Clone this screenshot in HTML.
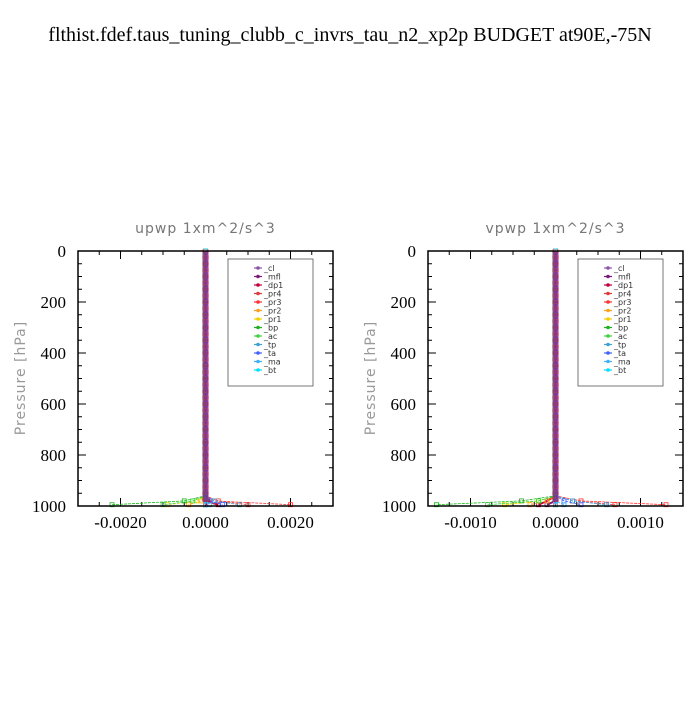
<!DOCTYPE html>
<html><head><meta charset="utf-8"><style>
body{margin:0;background:#fff}
</style></head><body>
<svg id="chart" width="700" height="700" viewBox="0 0 700 700" font-family="Liberation Serif, serif">
<rect width="700" height="700" fill="#fff"/>
<text x="350" y="41" font-size="20" text-anchor="middle">flthist.fdef.taus_tuning_clubb_c_invrs_tau_n2_xp2p  BUDGET at90E,-75N</text>
<g id="panels"></g>
</svg>
<script>
const levels=[0,50,100,150,200,250,300,350,400,450,500,550,600,650,700,750,800,850,900,950,960,980,995];
const names=["_cl","_mfl","_dp1","_pr4","_pr3","_pr2","_pr1","_bp","_ac","_tp","_ta","_ma","_bt"];
const colors=["#8855aa","#7a1a7a","#c0003a","#e03a3a","#ff3030","#ffa020","#f0d000","#20b020","#40d040","#40a0d0","#4060ff","#40b0ff","#00e0ff"];
const Z=[0,0,0,0,0,0,0,0,0,0,0,0,0,0,0,0,0,0,0,0];
const upwpBottom=[[0,0,0],[0,0.0001,0],[0,0,0.0003],[0,0.0003,0.0010],[0,0.0002,0.0020],[0,-0.0001,-0.0004],[0,-0.0002,-0.0009],[0,-0.0005,-0.0022],[0,-0.0003,-0.0010],[0,0.0002,0.0008],[0,0.0001,0.0004],[0,0,0.0001],[0,0,0]];
const vpwpBottom=[[0,0,0],[0,0,-0.0001],[0,-0.0001,-0.0002],[0,0.0002,0.0007],[0,0.0003,0.0013],[0,-0.0001,-0.0003],[0,-0.0002,-0.0006],[0,-0.0004,-0.0014],[0,-0.0002,-0.0008],[0,0.0002,0.0006],[0,0.0001,0.0003],[0,0,0.0001],[0,0,0]];
const yTicks=[0,200,400,600,800,1000];
const upwpTicks=[-0.002,0,0.002];
const vpwpTicks=[-0.001,0,0.001];
const NS="http://www.w3.org/2000/svg";
const root=document.getElementById("panels");
function mk(tag,attrs,parent){const e=document.createElementNS(NS,tag);for(const k in attrs)e.setAttribute(k,attrs[k]);parent.appendChild(e);return e;}
function panel(x0,title,xmax,ticks,bottom,key){
  const g=mk("g",{},root);
  
  
  const W=255,H=255,y0=251;
  const sx=v=>x0+W/2+v/xmax*(W/2);
  const sy=p=>y0+p/1000*H;
  const t=mk("text",{x:x0+W/2,y:233,"font-size":14,fill:"#777","text-anchor":"middle","font-family":"DejaVu Sans, sans-serif","letter-spacing":"1"},g);
  t.textContent=title;
  
  
  const yl=mk("text",{x:0,y:0,"font-size":14,fill:"#999","text-anchor":"middle","font-family":"DejaVu Sans, sans-serif","letter-spacing":"1",transform:`translate(${x0-53},378) rotate(-90)`},g);
  yl.textContent="Pressure [hPa]";
  
  
  for(let p=0;p<=1000;p+=50){
    const major=p%200===0,L=major?8:4;
    mk("line",{x1:x0,x2:x0+L,y1:sy(p),y2:sy(p),stroke:"#000"},g);
    mk("line",{x1:x0+W,x2:x0+W-L,y1:sy(p),y2:sy(p),stroke:"#000"},g);
  }
  yTicks.forEach(p=>{const tx=mk("text",{x:x0-12,y:sy(p)+6,"font-size":17,"text-anchor":"end"},g);tx.textContent=p;
    
    });
  const step=ticks[2]/4;
  for(let k=-20;k<=20;k++){
    const vv=k*step; if(Math.abs(vv)>xmax+1e-12)continue;
    const major=Math.abs(k)%4===0,L=major?8:4;
    mk("line",{x1:sx(vv),x2:sx(vv),y1:y0+H,y2:y0+H-L,stroke:"#000"},g);
    mk("line",{x1:sx(vv),x2:sx(vv),y1:y0,y2:y0+L,stroke:"#000"},g);
  }
  ticks.forEach(v=>{const tx=mk("text",{x:sx(v),y:y0+H+22,"font-size":17,"text-anchor":"middle"},g);tx.textContent=v.toFixed(4);
    
    });
  names.forEach((n,i)=>{
    const vals=Z.concat(bottom[i]);
    const pts=vals.map((v,j)=>sx(v)+","+sy(levels[j])).join(" ");
    const pl=mk("polyline",{points:pts,fill:"none",stroke:colors[i],"stroke-width":i<3?2:0.8,"stroke-dasharray":i<3?"none":"3,1"},g);
    
    
    vals.forEach((v,j)=>{const m=mk("rect",{x:sx(v)-2,y:sy(levels[j])-2,width:4,height:4,fill:"none",stroke:colors[i],"stroke-width":0.8},g);
      
      });
  });
  mk("rect",{x:x0+W/2-3,y:y0,width:6,height:H-4,fill:"#7a2a8a",opacity:0.85},g);
  for(let p=0;p<1000;p+=25){mk("rect",{x:x0+W/2-3,y:sy(p)-1.5,width:6,height:3,fill:"none",stroke:"#c05030","stroke-width":0.5,opacity:0.6},g);}
  mk("rect",{x:x0,y:y0,width:W,height:H,fill:"none",stroke:"#000","stroke-width":1.5},g);
  const lg=mk("g",{},g);
  
  
  mk("rect",{x:x0+150,y:259,width:85,height:127,fill:"#fff",stroke:"#555","stroke-width":0.8},lg);
  names.forEach((n,i)=>{
    const y=268+i*8.5;
    mk("line",{x1:x0+176,x2:x0+184,y1:y,y2:y,stroke:colors[i],"stroke-width":1.2},lg);
    mk("circle",{cx:x0+180,cy:y,r:1.8,fill:colors[i]},lg);
    const tx=mk("text",{x:x0+186,y:y+3,"font-size":8,fill:"#333","font-family":"DejaVu Sans, sans-serif"},lg);
    tx.textContent=n;
    
    
  });
}
panel(78,"upwp  1xm^2/s^3",0.003,upwpTicks,upwpBottom,"upwp");
panel(428,"vpwp  1xm^2/s^3",0.0015,vpwpTicks,vpwpBottom,"vpwp");
</script>
</body></html>
